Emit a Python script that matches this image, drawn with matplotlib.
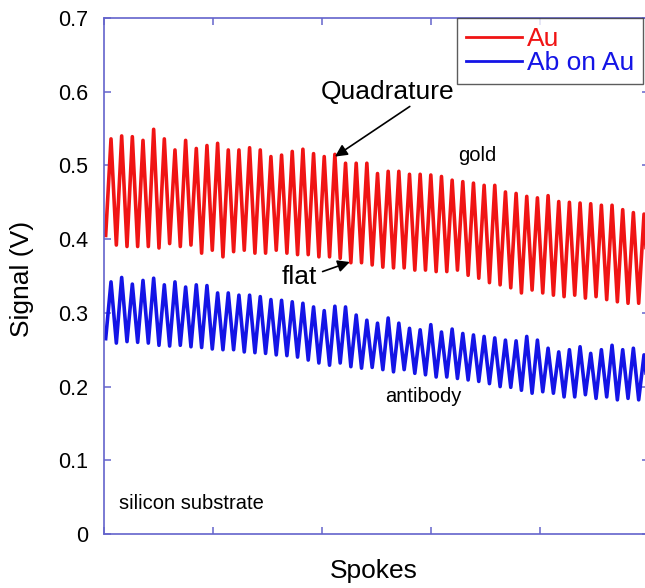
import numpy as np
import matplotlib
matplotlib.use("Agg")
import matplotlib.pyplot as plt

plt.rcParams['font.family'] = ['Liberation Sans', 'DejaVu Sans']

# peak / trough values of each spoke cycle (V)
au_start = 0.405
au_peaks = [0.536, 0.540, 0.539, 0.534, 0.549, 0.536, 0.521, 0.534, 0.523, 0.527,
            0.530, 0.521, 0.521, 0.524, 0.521, 0.512,
            0.514, 0.519, 0.522, 0.516, 0.512, 0.515, 0.503, 0.503, 0.503, 0.489,
            0.492, 0.492, 0.488, 0.488, 0.487, 0.485,
            0.480, 0.478, 0.476, 0.473, 0.473, 0.464, 0.462, 0.458, 0.456, 0.459,
            0.451, 0.450, 0.449, 0.448, 0.446, 0.446, 0.440, 0.436, 0.434]
au_troughs = [0.392, 0.390, 0.390, 0.390, 0.388, 0.394, 0.390, 0.392, 0.381, 0.385,
              0.376, 0.383, 0.385, 0.381, 0.381,
              0.385, 0.381, 0.379, 0.379, 0.376, 0.376, 0.374, 0.368, 0.368, 0.365,
              0.362, 0.361, 0.361, 0.358, 0.358, 0.356, 0.356,
              0.358, 0.351, 0.347, 0.341, 0.338, 0.334, 0.327, 0.331, 0.327, 0.324,
              0.322, 0.324, 0.320, 0.322, 0.318, 0.315, 0.313, 0.313, 0.312]

ab_start = 0.265
ab_peaks = [0.342, 0.348, 0.339, 0.344, 0.347, 0.338, 0.342, 0.335, 0.338, 0.337,
            0.327, 0.327, 0.324, 0.324, 0.322, 0.318, 0.317, 0.315,
            0.313, 0.308, 0.303, 0.309, 0.308, 0.297, 0.290, 0.286, 0.293, 0.286,
            0.279, 0.277, 0.284, 0.274, 0.278, 0.272, 0.270, 0.268,
            0.266, 0.263, 0.262, 0.268, 0.263, 0.252, 0.247, 0.250, 0.254, 0.245,
            0.250, 0.256, 0.250, 0.252, 0.243]
ab_troughs = [0.259, 0.261, 0.260, 0.259, 0.256, 0.255, 0.256, 0.254, 0.253, 0.251,
              0.250, 0.250, 0.247, 0.246, 0.245, 0.243, 0.242, 0.240,
              0.236, 0.232, 0.229, 0.232, 0.227, 0.225, 0.226, 0.223, 0.220, 0.223,
              0.218, 0.216, 0.213, 0.213, 0.211, 0.209, 0.207,
              0.204, 0.200, 0.199, 0.195, 0.191, 0.193, 0.191, 0.186, 0.186, 0.189,
              0.184, 0.186, 0.182, 0.184, 0.182, 0.177]

labels = ['Au', 'Ab on Au']
colors = ['#f01414', '#1414e6']

# spoke time base: one cycle = 0.0978 spoke units
x_start = 0.02
half_step = 0.0489


def build(start, peaks, troughs):
    y = [start]
    for p, t in zip(peaks, troughs):
        y += [p, t]
    x = x_start + np.arange(len(y)) * half_step
    return x, np.array(y)


fig = plt.figure(figsize=(6.45, 5.88), dpi=100)
ax = fig.add_axes([103.5 / 645, 54 / 588, 545 / 645, 516 / 588])

x1, y1 = build(au_start, au_peaks, au_troughs)
x2, y2 = build(ab_start, ab_peaks, ab_troughs)
ax.plot(x1, y1, color=colors[0], lw=2.6, label=labels[0], solid_joinstyle='round')
ax.plot(x2, y2, color=colors[1], lw=2.6, label=labels[1], solid_joinstyle='round')

ax.set_xlim(0, 5)
ax.set_ylim(0, 0.7)
ax.set_xticks([0, 1, 2, 3, 4, 5])
ax.set_xticklabels([])
ax.set_yticks(np.arange(0, 0.71, 0.1))
ax.set_yticklabels(['0', '0.1', '0.2', '0.3', '0.4', '0.5', '0.6', '0.7'])

spine_col = '#6464cc'
for s in ax.spines.values():
    s.set_color(spine_col)
    s.set_linewidth(1.2)
ax.tick_params(direction='in', length=5, width=1.1, color=spine_col,
               top=True, right=True, labelsize=15.5, pad=11)

ax.set_xlabel('Spokes', fontsize=19)
ax.xaxis.set_label_coords(0.496, -0.072)
ax.xaxis.label.set_va('center')
ax.set_ylabel('Signal (V)', fontsize=19)
ax.yaxis.set_label_coords(-0.149, 0.495)
ax.yaxis.label.set_va('center')

leg = ax.legend(loc='upper left', bbox_to_anchor=(0.6486, 1.0), fontsize=19,
                frameon=True, fancybox=False, borderaxespad=0, handlelength=2.1,
                handletextpad=0.2, labelspacing=0.0, borderpad=0.35)
leg.get_frame().set_edgecolor('#333333')
leg.get_frame().set_linewidth(1.0)
for txt, c in zip(leg.get_texts(), colors):
    txt.set_color(c)
for ln in leg.get_lines():
    ln.set_linewidth(2.0)

arrow = dict(arrowstyle='-|>', color='k', lw=1.2, mutation_scale=18,
             shrinkA=0, shrinkB=0)
ax.text(2.61, 0.600, 'Quadrature', fontsize=19, ha='center', va='center')
ax.annotate('', xy=(2.124, 0.512), xytext=(2.81, 0.580), arrowprops=arrow)
ax.text(1.80, 0.349, 'flat', fontsize=19, ha='center', va='center')
ax.annotate('', xy=(2.26, 0.369), xytext=(2.01, 0.356), arrowprops=arrow)
ax.text(3.43, 0.514, 'gold', fontsize=14.5, ha='center', va='center')
ax.text(2.93, 0.186, 'antibody', fontsize=14.5, ha='center', va='center')
ax.text(0.142, 0.042, 'silicon substrate', fontsize=14.5, ha='left', va='center')

fig.savefig('out.png', dpi=100)
